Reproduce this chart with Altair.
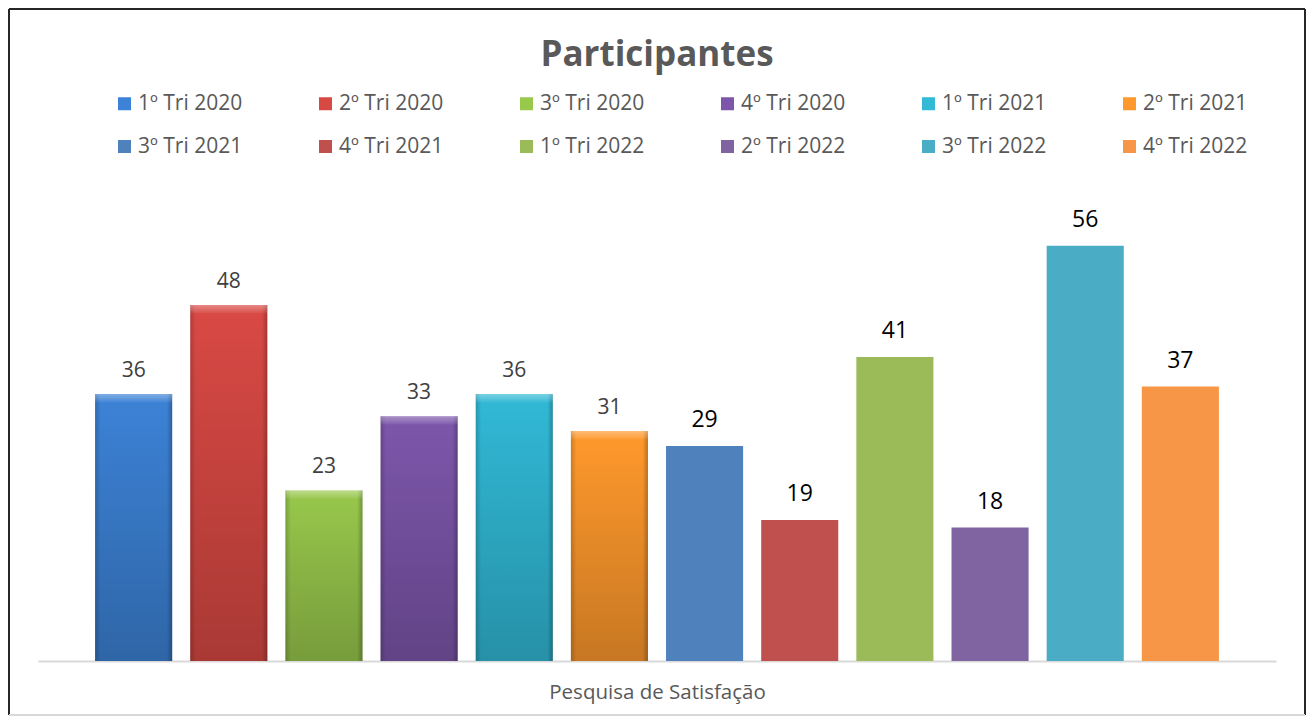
import altair as alt
import pandas as pd

trimestres = ["1º Tri 2020", "2º Tri 2020", "3º Tri 2020", "4º Tri 2020",
              "1º Tri 2021", "2º Tri 2021", "3º Tri 2021", "4º Tri 2021",
              "1º Tri 2022", "2º Tri 2022", "3º Tri 2022", "4º Tri 2022"]
participantes = [36, 48, 23, 33, 36, 31, 29, 19, 41, 18, 56, 37]
cores = ["#3c82d6", "#d94944", "#98c84c", "#7d56ab", "#31b9d6", "#ff992c",
         "#4f81bd", "#c0504d", "#9bbb59", "#8064a2", "#4bacc6", "#f79646"]

df = pd.DataFrame({"trimestre": trimestres, "participantes": participantes,
                   "ordem": list(range(len(trimestres)))})

W, H = 1238, 445
FONT = "Open Sans"

x = alt.X("trimestre:N", sort=trimestres,
          scale=alt.Scale(paddingInner=0.19, paddingOuter=0.6),
          axis=alt.Axis(title="Pesquisa de Satisfação", labels=False, ticks=False,
                        domainColor="#d9d9d9", domainWidth=2,
                        titleFont=FONT, titleFontSize=20.5, titleFontWeight="normal",
                        titleColor="#595959", titlePadding=21))
y = alt.Y("participantes:Q", scale=alt.Scale(domain=[0, 60]), axis=None)
color = alt.Color("trimestre:N", sort=trimestres,
                  scale=alt.Scale(domain=trimestres, range=cores),
                  legend=alt.Legend(title=None, orient="none", legendX=76, legendY=-123,
                                    direction="horizontal", columns=6, symbolType="square",
                                    symbolSize=169, symbolStrokeWidth=0, labelFont=FONT,
                                    labelFontSize=21, labelColor="#595959", columnPadding=72,
                                    rowPadding=21, labelOffset=3, gridAlign="all",
                                    labelLimit=250))

base = alt.Chart(df).encode(x=x, y=y)
bars = base.mark_bar().encode(color=color)

bevel = base.transform_filter("datum.ordem < 6")
shade_v = bevel.mark_bar(fill=alt.Gradient(
    gradient="linear", x1=0, x2=0, y1=0, y2=1,
    stops=[alt.GradientStop(color="rgba(0,0,0,0)", offset=0),
           alt.GradientStop(color="rgba(0,0,0,0.22)", offset=1)]))
shade_h = bevel.mark_bar(fill=alt.Gradient(
    gradient="linear", x1=0, x2=1, y1=0, y2=0,
    stops=[alt.GradientStop(color="rgba(0,0,0,0.18)", offset=0),
           alt.GradientStop(color="rgba(0,0,0,0)", offset=0.07),
           alt.GradientStop(color="rgba(0,0,0,0)", offset=0.93),
           alt.GradientStop(color="rgba(0,0,0,0.25)", offset=1)]))
top_hl = bevel.transform_calculate(base_top="datum.participantes - 1.1").mark_bar(
    fill=alt.Gradient(gradient="linear", x1=0, x2=0, y1=0, y2=1,
                      stops=[alt.GradientStop(color="rgba(255,255,255,0.35)", offset=0),
                             alt.GradientStop(color="rgba(255,255,255,0.05)", offset=1)])
).encode(y2="base_top:Q")

lab_gray = base.transform_filter("datum.ordem < 6").mark_text(
    font=FONT, fontSize=21, color="#404040", baseline="alphabetic", dy=-17
).encode(text="participantes:Q")
lab_black = base.transform_filter("datum.ordem >= 6").mark_text(
    font=FONT, fontSize=23, color="#000000", baseline="alphabetic", dy=-19
).encode(text="participantes:Q")

one = pd.DataFrame({"a": [0]})
border_dark = alt.Chart(one).mark_rule(color="#262626", strokeWidth=2)
b_left = border_dark.encode(x=alt.value(-29), y=alt.value(-207), y2=alt.value(499))
b_top = border_dark.encode(x=alt.value(-29), x2=alt.value(1267), y=alt.value(-207))
b_right = border_dark.encode(x=alt.value(1267), y=alt.value(-207), y2=alt.value(499))
b_bottom = alt.Chart(one).mark_rule(color="#d9d9d9", strokeWidth=2).encode(
    x=alt.value(-29), x2=alt.value(1267), y=alt.value(499))

chart = alt.layer(bars, shade_v, shade_h, top_hl, lab_gray, lab_black,
                  b_left, b_top, b_right, b_bottom).properties(
    width=W, height=H,
    title=alt.TitleParams("Participantes", font=FONT, fontSize=35, fontWeight="bold",
                          color="#595959", anchor="middle", frame="group",
                          baseline="alphabetic", offset=0, dy=93),
    autosize=alt.AutoSizeParams(type="none"),
    padding={"left": 30, "top": 208, "right": 30, "bottom": 63},
).configure(background="white").configure_view(strokeWidth=0, stroke="transparent")

chart.save("out.html", embed_options={"renderer": "svg", "actions": False})
